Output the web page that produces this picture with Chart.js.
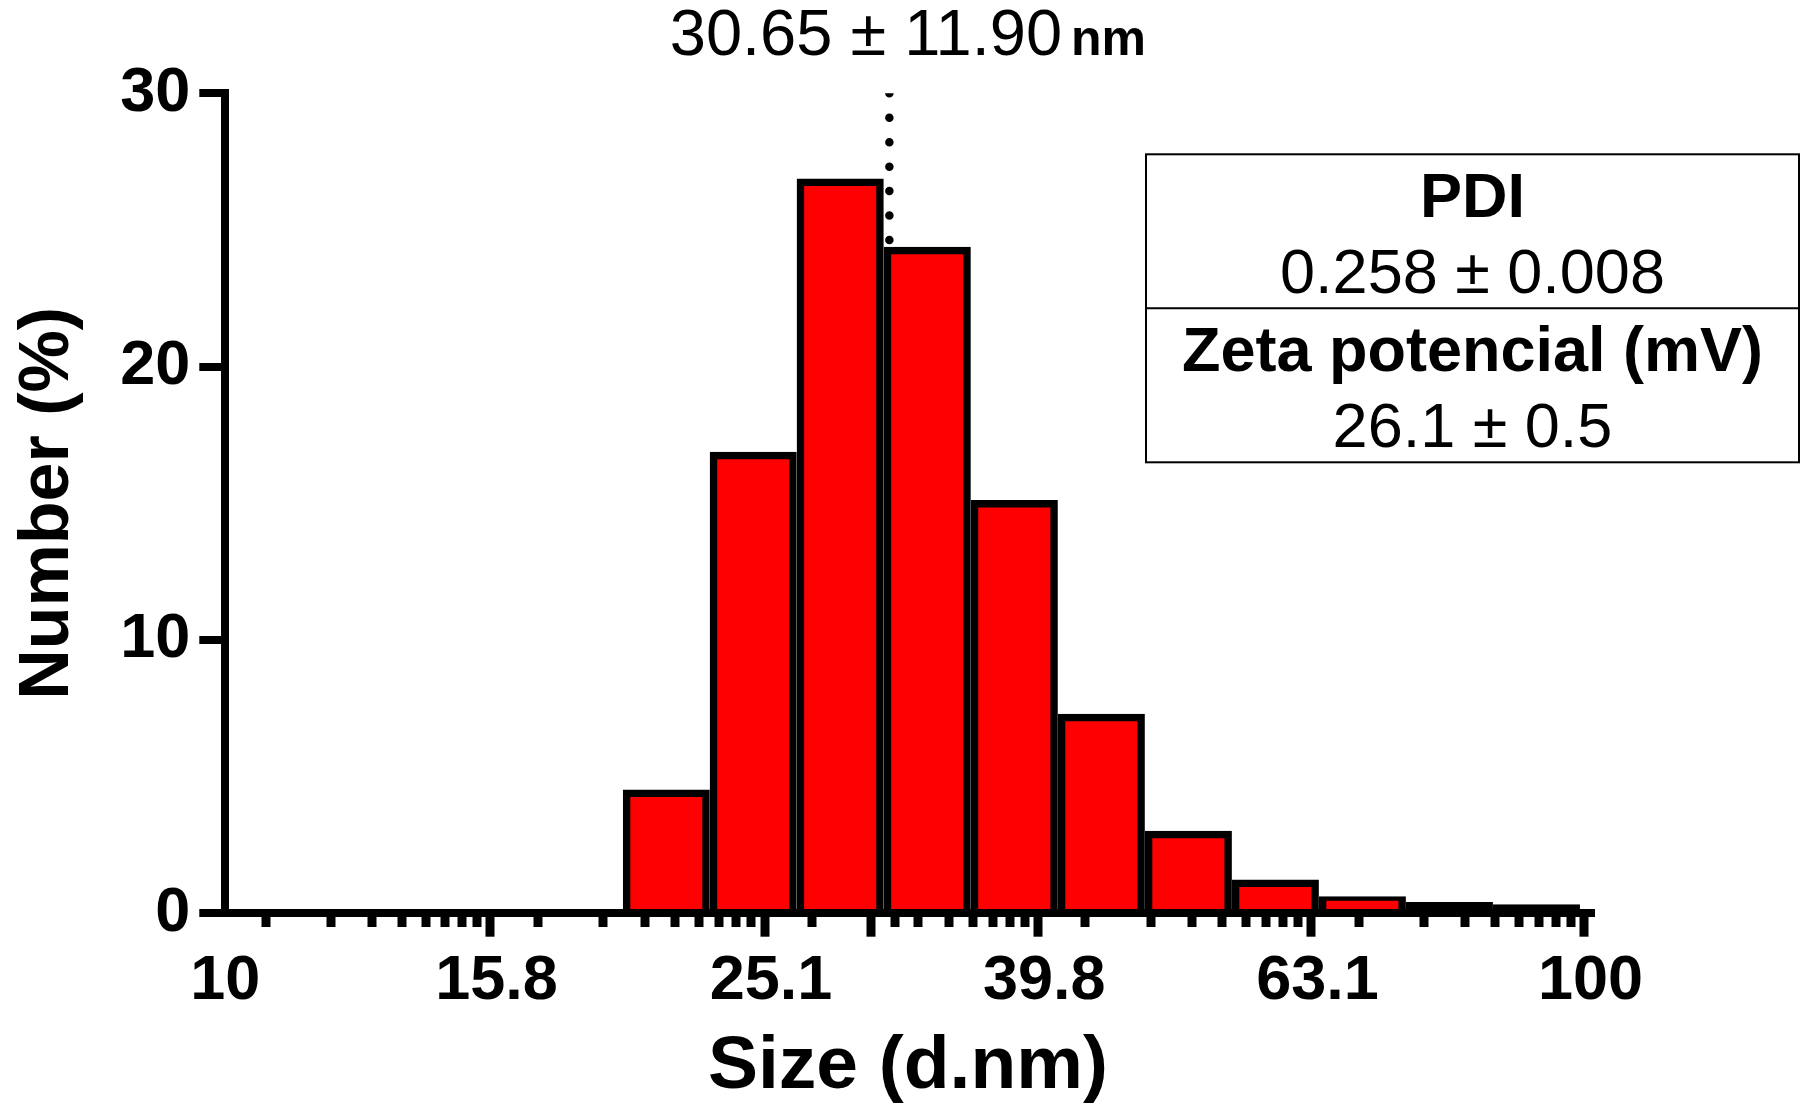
<!DOCTYPE html>
<html>
<head>
<meta charset="utf-8">
<script src="https://cdn.jsdelivr.net/npm/chart.js@4.4.1/dist/chart.umd.min.js"></script>
<style>
  html, body { margin: 0; padding: 0; background: #ffffff; }
  canvas { display: block; }
</style>
</head>
<body>
<canvas id="c" width="1805" height="1106"></canvas>
<script>
// ---------------- data ----------------
const sizes = [21.04, 24.36, 28.21, 32.67, 37.84, 43.82, 50.75, 58.77, 68.06, 78.82, 91.28]; // d.nm (bin centres)
const numberPct = [4.39, 16.75, 26.75, 24.25, 14.98, 7.16, 2.88, 1.10, 0.49, 0.28, 0.19];   // Number (%)
const xTickLabels = ['10', '15.8', '25.1', '39.8', '63.1', '100'];
const yTickValues = [0, 10, 20, 30];
const meanSize = 30.65;
const sdSize = 11.90;
const pdiMean = 0.258, pdiSd = 0.008;
const zetaMean = 26.1, zetaSd = 0.5;

// ---------------- styling ----------------
const FONT = '"Liberation Sans", Arial, Helvetica, sans-serif';
const RED = '#ff0000';
const BLACK = '#000000';
const BAR_BORDER = 7.5;
Chart.defaults.font.family = FONT;
Chart.defaults.color = BLACK;

// x tick set: labelled majors, log-style minors inside each major interval, and the mean marker
const majorVals = xTickLabels.map(Number);
const xTickObjs = [];
for (let i = 0; i < majorVals.length; i++) {
  xTickObjs.push({ value: majorVals[i], kind: 'major', lbl: xTickLabels[i] });
  if (i < majorVals.length - 1) {
    const a = majorVals[i], b = majorVals[i + 1];
    for (let k = 2; k <= 9; k++) {
      xTickObjs.push({ value: a * Math.pow(b / a, Math.log10(k)), kind: 'minor', lbl: '' });
    }
  }
}
xTickObjs.push({ value: meanSize, kind: 'mean', lbl: '' });
xTickObjs.sort((p, q) => p.value - q.value);

const annotations = {
  id: 'annotations',
  afterDraw(chart) {
    const ctx = chart.ctx;
    const a = chart.chartArea;
    ctx.save();
    // mean ± sd heading
    const main = meanSize.toFixed(2) + ' \u00B1 ' + sdSize.toFixed(2);
    ctx.font = '65px ' + FONT;
    const w1 = ctx.measureText(main).width;
    ctx.font = 'bold 50px ' + FONT;
    const w2 = ctx.measureText('nm').width;
    const gap = 9;
    const start = (a.left + a.right) / 2 - (w1 + gap + w2) / 2;
    const base = a.top - 38;
    ctx.fillStyle = BLACK;
    ctx.textBaseline = 'alphabetic';
    ctx.textAlign = 'left';
    ctx.font = '65px ' + FONT;
    ctx.fillText(main, start, base);
    ctx.font = 'bold 50px ' + FONT;
    ctx.fillText('nm', start + w1 + gap, base);

    // PDI / Zeta table
    const right = chart.width - 6;
    const left = right - 653;
    const top = a.top + 61;
    const rowH = 154;
    ctx.strokeStyle = BLACK;
    ctx.lineWidth = 2;
    ctx.strokeRect(left, top, right - left, rowH * 2);
    ctx.beginPath();
    ctx.moveTo(left, top + rowH);
    ctx.lineTo(right, top + rowH);
    ctx.stroke();
    const cx = (left + right) / 2;
    ctx.textAlign = 'center';
    const rows = [
      ['PDI', pdiMean.toFixed(3) + ' \u00B1 ' + pdiSd.toFixed(3)],
      ['Zeta potencial (mV)', zetaMean.toFixed(1) + ' \u00B1 ' + zetaSd.toFixed(1)]
    ];
    rows.forEach((r, i) => {
      const y0 = top + i * rowH;
      ctx.font = 'bold 63px ' + FONT;
      ctx.fillText(r[0], cx, y0 + 62.5);
      ctx.font = '63px ' + FONT;
      ctx.fillText(r[1], cx, y0 + 139);
    });
    ctx.restore();
  }
};

new Chart(document.getElementById('c'), {
  type: 'bar',
  data: {
    datasets: [
      {
        type: 'bar',
        label: 'Number (%)',
        data: sizes.map((s, i) => ({ x: s, y: numberPct[i] })),
        backgroundColor: (c) => {
          const ys = c.chart.scales.y;
          if (!ys || !c.raw) return RED;
          const h = ys.getPixelForValue(0) - ys.getPixelForValue(c.raw.y);
          return h < 9 ? BLACK : RED;
        },
        borderColor: BLACK,
        borderWidth: BAR_BORDER,
        inflateAmount: BAR_BORDER / 2,
        barThickness: 'flex',
        barPercentage: 0.915,
        categoryPercentage: 1.0,
        order: 0
      },
      {
        type: 'line',
        label: 'mean',
        data: [{ x: meanSize, y: 30 }, { x: meanSize, y: 0 }],
        borderColor: BLACK,
        borderWidth: 8.5,
        borderDash: [0, 24.45],
        borderCapStyle: 'round',
        pointRadius: 0,
        fill: false,
        clip: 0,
        order: 1
      }
    ]
  },
  options: {
    responsive: false,
    animation: false,
    devicePixelRatio: 1,
    layout: { padding: { top: 93.3, right: 214.5, left: 0, bottom: 0 } },
    plugins: { legend: { display: false }, tooltip: { enabled: false }, title: { display: false } },
    scales: {
      x: {
        type: 'logarithmic',
        position: 'bottom',
        min: 10,
        max: 100,
        afterBuildTicks: (s) => { s.ticks = xTickObjs.map(t => Object.assign({}, t)); },
        afterFit: (s) => { s.height = 192.7; },
        ticks: {
          autoSkip: false,
          maxRotation: 0,
          minRotation: 0,
          padding: 7,
          color: BLACK,
          font: { size: 63, weight: 'bold' },
          callback: (v, i, ticks) => (ticks[i] && ticks[i].lbl) || ''
        },
        grid: {
          drawOnChartArea: false,
          drawTicks: true,
          tickLength: 23.4,
          lineWidth: 8,
          tickWidth: 9,
          color: BLACK,
          tickColor: BLACK,
          tickBorderDash: (c) => (c.tick && c.tick.kind === 'minor') ? [10, 100] : []
        },
        border: { display: true, color: BLACK, width: 8, z: 1 },
        title: {
          display: true,
          text: 'Size (d.nm)',
          color: BLACK,
          font: { size: 75, weight: 'bold', lineHeight: 1.0 },
          padding: { top: 0, bottom: 1 }
        }
      },
      y: {
        type: 'linear',
        position: 'left',
        min: 0,
        max: 30,
        afterBuildTicks: (s) => { s.ticks = yTickValues.map(v => ({ value: v })); },
        afterFit: (s) => { s.width = 225.3; },
        ticks: {
          padding: 9,
          color: BLACK,
          font: { size: 63, weight: 'bold' }
        },
        grid: {
          drawOnChartArea: false,
          drawTicks: true,
          tickLength: 26,
          lineWidth: 8,
          tickWidth: 8,
          color: BLACK
        },
        border: { display: true, color: BLACK, width: 8, z: 1 },
        title: {
          display: true,
          text: 'Number (%)',
          color: BLACK,
          font: { size: 70, weight: 'bold', lineHeight: 1.2 },
          padding: { top: 7, bottom: 0 }
        }
      }
    }
  },
  plugins: [annotations]
});
</script>
</body>
</html>
